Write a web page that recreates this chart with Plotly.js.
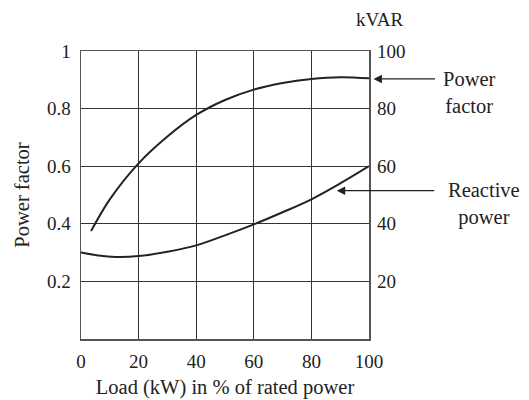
<!DOCTYPE html>
<html>
<head>
<meta charset="utf-8">
<script src="https://cdn.plot.ly/plotly-3.0.1.min.js"></script>
<style>html,body{margin:0;padding:0;background:#fff;}#chart{width:529px;height:400px;}</style>
</head>
<body>
<div id="chart"></div>
<script>
// Load (% of rated power)
var pfLoad = [3.5, 10, 20, 30, 40, 50, 60, 70, 80, 90, 100];
var pfValues = [0.375, 0.485, 0.61, 0.703, 0.778, 0.83, 0.866, 0.889, 0.903, 0.909, 0.905];
var kvarLoad = [0, 6, 12, 20, 30, 40, 50, 60, 70, 80, 90, 100];
var kvarValues = [30, 29, 28.5, 28.8, 30.3, 32.5, 36, 39.8, 44, 48.5, 54, 60];
var xTicks = [0, 20, 40, 60, 80, 100];
var yTicks = [0.2, 0.4, 0.6, 0.8, 1];
var y2Ticks = [20, 40, 60, 80, 100];

var FONT = "Liberation Serif, Times New Roman, serif";
var INK = "#222";
var TXT = {family: FONT, size: 20.5, color: INK};

var traces = [
  {x: pfLoad, y: pfValues, mode: "lines", line: {color: INK, width: 2, shape: "spline", smoothing: 1}, yaxis: "y", hoverinfo: "skip"},
  {x: kvarLoad, y: kvarValues, mode: "lines", line: {color: INK, width: 2, shape: "spline", smoothing: 1}, yaxis: "y2", hoverinfo: "skip"}
];

var layout = {
  width: 529, height: 400,
  margin: {l: 81, r: 159.5, t: 51, b: 61},
  paper_bgcolor: "#fff", plot_bgcolor: "#fff",
  showlegend: false,
  font: {family: FONT, size: 19, color: INK},
  xaxis: {
    range: [0, 100], tickvals: xTicks, ticks: "", ticklabelstandoff: 5,
    tickfont: {family: FONT, size: 19, color: INK},
    showgrid: true, gridcolor: "#333", gridwidth: 1,
    showline: true, linecolor: "#555", linewidth: 1.5, mirror: true,
    zeroline: false, fixedrange: true,
    title: {text: "Load (kW) in % of rated power", standoff: 8, font: TXT}
  },
  yaxis: {
    range: [0, 1], tickvals: yTicks, ticks: "", ticklabelstandoff: 5,
    tickfont: {family: FONT, size: 19, color: INK},
    showgrid: true, gridcolor: "#333", gridwidth: 1,
    showline: true, linecolor: "#555", linewidth: 1.5, mirror: true,
    zeroline: false, fixedrange: true,
    title: {text: "Power factor", standoff: 12, font: TXT}
  },
  yaxis2: {
    range: [0, 100], tickvals: y2Ticks, ticks: "", ticklabelstandoff: 7,
    tickfont: {family: FONT, size: 19, color: INK},
    overlaying: "y", side: "right", showgrid: false, zeroline: false,
    showline: false, fixedrange: true
  },
  annotations: [
    {xref: "paper", yref: "paper", x: 1.035, y: 1.11, text: "kVAR", showarrow: false,
     xanchor: "center", yanchor: "middle", font: {family: FONT, size: 19, color: INK}},
    {xref: "paper", yref: "y", x: 1.0156, y: 0.903, text: "", showarrow: true,
     ax: 63, ay: 0, arrowhead: 2, arrowsize: 1.3, arrowwidth: 1.3, arrowcolor: INK},
    {xref: "x", yref: "y2", x: 88.8, y: 51.5, text: "", showarrow: true,
     ax: 99, ay: 0, arrowhead: 2, arrowsize: 1.3, arrowwidth: 1.3, arrowcolor: INK},
    {xref: "paper", yref: "paper", x: 1.348, y: 0.857, text: "Power<br>factor", showarrow: false,
     xanchor: "center", yanchor: "middle", align: "center", font: TXT},
    {xref: "paper", yref: "paper", x: 1.40, y: 0.47, text: "Reactive<br>power", showarrow: false,
     xanchor: "center", yanchor: "middle", align: "center", font: TXT}
  ]
};

Plotly.newPlot("chart", traces, layout, {displayModeBar: false, staticPlot: true});
</script>
</body>
</html>
